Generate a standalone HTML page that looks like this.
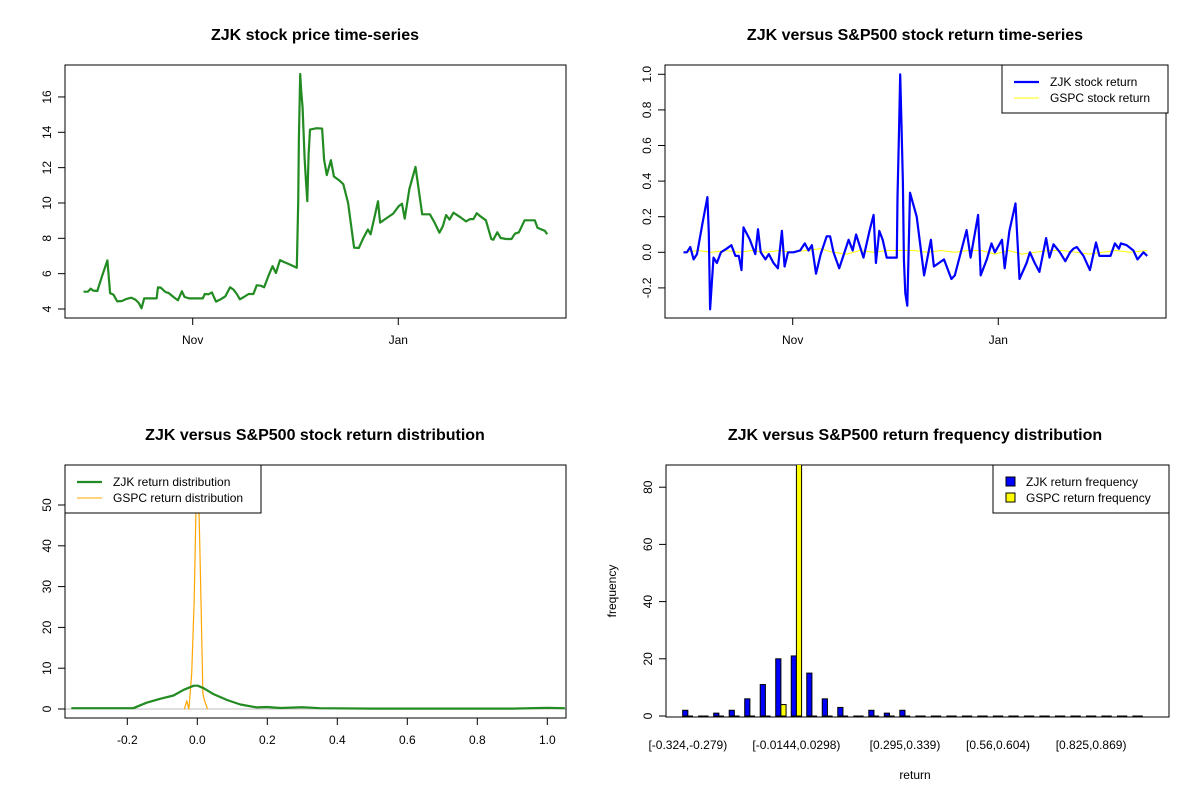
<!DOCTYPE html>
<html><head><meta charset="utf-8"><style>
html,body{margin:0;padding:0;background:#fff}
svg{display:block;font-family:"Liberation Sans",Arial,sans-serif}
</style></head><body>
<svg id="c" width="1200" height="800" viewBox="0 0 1200 800"></svg>
<script>
// ---- Panel 1: price series (day offset from Nov 1, price)
const priceDays=[-32.4,-31.1,-30.3,-29.5,-28.3,-26.9,-25.3,-24.5,-23.5,-22.4,-21.0,-19.6,-18.2,-17.0,-16.0,-15.2,-14.4,-12.7,-10.7,-10.3,-9.5,-8.1,-7.1,-5.7,-4.4,-3.2,-2.4,-1.0,1.2,3.0,3.6,4.7,5.7,6.9,8.3,9.7,11.1,12.1,13.1,14.0,15.2,16.6,18.0,19.0,20.2,21.2,22.7,23.7,24.7,25.9,27.1,28.9,30.9,31.3,31.5,31.9,32.2,32.6,33.2,33.6,34.0,34.4,34.8,36.8,38.4,39.0,39.8,41.0,41.9,43.5,44.7,46.1,47.9,49.3,50.6,52.0,52.8,54.0,55.0,55.6,57.6,59.5,61.1,62.1,62.9,64.3,66.1,68.1,70.4,71.8,73.2,74.2,75.2,76.2,77.4,79.3,81.1,82.3,83.3,84.3,85.3,87.0,88.6,89.2,90.4,91.4,93.0,94.6,95.6,96.8,98.5,101.5,102.3,103.7,104.5,105.2];
const priceVals=[4.98,4.98,5.15,5.04,5.02,5.85,6.75,4.9,4.81,4.43,4.45,4.57,4.64,4.53,4.34,4.04,4.6,4.6,4.6,5.23,5.21,4.96,4.9,4.68,4.49,5.0,4.68,4.6,4.6,4.6,4.85,4.83,4.94,4.42,4.55,4.72,5.23,5.1,4.85,4.55,4.68,4.85,4.85,5.34,5.32,5.23,5.98,6.42,6.04,6.77,6.66,6.51,6.34,10.0,13.66,17.3,16.34,15.4,12.53,11.3,10.1,12.75,14.15,14.23,14.21,12.45,11.58,12.42,11.5,11.28,11.06,10.0,7.47,7.45,8.0,8.5,8.23,9.25,10.1,8.89,9.15,9.4,9.81,9.96,9.11,10.8,12.04,9.36,9.36,8.87,8.32,8.68,9.32,9.06,9.45,9.21,8.96,9.09,9.09,9.42,9.25,9.02,7.96,7.92,8.34,8.02,7.96,7.96,8.26,8.34,9.02,9.02,8.6,8.49,8.42,8.23];
const priceTicks=[4,6,8,10,12,14,16];
const dateTicks=[0,61];
const dateLabels=["Nov","Jan"];
// ---- Panel 2: returns
const retDays=[-32.4,-31.4,-30.4,-29.4,-28.4,-26.8,-25.3,-24.9,-24.5,-23.5,-22.5,-21.3,-19.6,-18.2,-17.0,-16.0,-15.2,-14.6,-12.7,-11.1,-10.3,-9.5,-8.1,-7.1,-5.7,-4.4,-3.2,-2.4,-1.4,0.2,2.2,3.6,4.7,5.7,6.9,8.3,10.1,11.1,12.1,13.8,15.2,16.6,17.8,18.8,20.0,21.0,22.8,24.0,24.7,25.7,26.7,27.9,30.9,31.1,31.5,31.9,32.3,32.7,33.0,33.4,34.0,34.4,34.8,36.8,39.0,41.0,41.9,44.9,47.1,48.1,49.6,51.6,52.8,55.0,55.8,57.6,59.0,60.0,62.1,62.9,64.3,66.1,67.3,69.4,70.4,71.8,73.2,75.2,76.2,77.4,79.3,80.9,82.3,83.3,84.3,86.3,88.2,90.0,91.0,93.0,94.3,95.6,96.8,97.4,99.1,101.1,102.3,104.1,105.2];
const retVals=[0,0,0.03,-0.04,-0.01,0.16,0.31,0.11,-0.32,-0.03,-0.06,0,0.02,0.04,-0.02,-0.02,-0.1,0.14,0.07,-0.01,0.13,0,-0.04,-0.01,-0.06,-0.09,0.12,-0.08,0,0,0.01,0.05,0.01,0.04,-0.12,-0.01,0.09,0.09,0,-0.09,-0.01,0.07,0.01,0.1,0.03,-0.03,0.12,0.21,-0.06,0.12,0.07,-0.03,-0.03,0.31,0.65,1.0,0.69,0.39,-0.04,-0.23,-0.3,0,0.335,0.2,-0.13,0.07,-0.08,-0.04,-0.15,-0.13,-0.02,0.125,-0.03,0.21,-0.13,-0.04,0.05,0,0.07,-0.09,0.12,0.275,-0.15,-0.06,0,-0.06,-0.11,0.08,-0.03,0.045,0,-0.05,0,0.02,0.03,-0.02,-0.1,0.055,-0.02,-0.02,-0.02,0.05,0.02,0.05,0.04,0.01,-0.04,0,-0.02];
const spDays=[-32.4,-28,-24,-20,-16,-12,-8,-4,0,4,8,12,16,20,24,28,32,36,40,44,48,52,56,60,64,68,72,76,80,84,88,92,96,100,105.2];
const spVals=[0,0.01,0,0.01,0,0.01,0,0.01,0,0.01,0.02,0,-0.01,0.01,0,0.01,0.01,0.01,0,0.01,0,0.01,0.01,-0.01,0.01,-0.01,0,0.01,0.01,0,-0.01,0,0.01,0,0.01];
const retTicks=[-0.2,0,0.2,0.4,0.6,0.8,1.0];
// ---- Panel 3: densities
const zjkDensX=[-0.36,-0.25,-0.183,-0.145,-0.106,-0.068,-0.039,-0.01,0.001,0.018,0.047,0.085,0.123,0.17,0.199,0.237,0.3,0.35,0.5,0.7,0.9,1.0,1.05];
const zjkDensY=[0.2,0.2,0.2,1.55,2.5,3.3,4.7,5.7,5.7,5.1,3.6,2.2,1.1,0.4,0.5,0.25,0.45,0.2,0.1,0.1,0.1,0.3,0.2];
const spDensX=[-0.037,-0.030,-0.024,-0.016,-0.009,-0.004,0.001,0.007,0.011,0.016,0.020,0.025,0.029];
const spDensY=[0,2,0,8.7,26.7,48,62,40,24,3.8,2.2,1,0];
const densXTicks=[-0.2,0,0.2,0.4,0.6,0.8,1.0];
const densYTicks=[0,10,20,30,40,50];
// ---- Panel 4: frequency bars
const zjkFreq=[2,0,1,2,6,11,20,21,15,6,3,0,2,1,2,0,0,0,0,0,0,0,0,0,0,0,0,0,0,0];
const spFreq=[0,0,0,0,0,0,4,92,0,0,0,0,0,0,0,0,0,0,0,0,0,0,0,0,0,0,0,0,0,0];
const binLabelIdx=[0,7,14,20,26];
const binLabels=["[-0.324,-0.279)","[-0.0144,0.0298)","[0.295,0.339)","[0.56,0.604)","[0.825,0.869)"];
const freqTicks=[0,20,40,60,80];

const NS="http://www.w3.org/2000/svg";
const svg=document.getElementById('c');
function mk(tag,attrs,parent,text){const e=document.createElementNS(NS,tag);for(const k in attrs)e.setAttribute(k,attrs[k]);if(text!==undefined)e.textContent=text;(parent||svg).appendChild(e);return e;}
function grp(name){const g=mk('g',{});


return g;}
function title(g,x,y,t){const e=mk('text',{x:x,y:y,'text-anchor':'middle','font-size':16,'font-weight':'bold',fill:'#000'},g,t);

}
function box(g,x0,y0,x1,y1){const e=mk('rect',{x:x0,y:y0,width:x1-x0,height:y1-y0,fill:'none',stroke:'#000','stroke-width':1},g);

}
function yAxis(g,ticks,ys,x,labFmt){for(let i=0;i<ticks.length;i++){const y=ys(ticks[i]);mk('line',{x1:x-7,x2:x,y1:y,y2:y,stroke:'#000'},g);
const t=mk('text',{x:x-14,y:y,'text-anchor':'middle','font-size':12,transform:`rotate(-90 ${x-14} ${y})`},g,labFmt?labFmt(ticks[i]):ticks[i]);

}}
function xAxis(g,ticks,labels,xs,y){for(let i=0;i<ticks.length;i++){const x=xs(ticks[i]);mk('line',{x1:x,x2:x,y1:y,y2:y+7,stroke:'#000'},g);
const t=mk('text',{x:x,y:y+26,'text-anchor':'middle','font-size':12},g,labels[i]);

}}
function poly(g,xs,ys,X,Y,color,w,name){const pts=xs.map((v,i)=>X(v).toFixed(1)+','+Y(ys[i]).toFixed(1)).join(' ');const e=mk('polyline',{points:pts,fill:'none',stroke:color,'stroke-width':w,'stroke-linejoin':'round'},g);

}
function clip(id,x0,y0,x1,y1){const cp=mk('clipPath',{id:id});mk('rect',{x:x0,y:y0,width:x1-x0,height:y1-y0},cp);}

// Panel 1
{const g=grp('price-panel');const X=d=>192.7+d*3.37,Y=v=>309-(v-4)*17.67;
title(g,315,40,'ZJK stock price time-series');
box(g,65,65,566,318);
yAxis(g,priceTicks,Y,65);
xAxis(g,dateTicks,dateLabels,X,318);
poly(g,priceDays,priceVals,X,Y,'#228B22',2.2,'zjk-price-line');}
// Panel 2
{const g=grp('return-panel');const X=d=>792.7+d*3.37,Y=v=>252.3-v*178;
title(g,915,40,'ZJK versus S&P500 stock return time-series');
box(g,665,65,1166,318);
yAxis(g,retTicks,Y,665,v=>v.toFixed(1));
xAxis(g,dateTicks,dateLabels,X,318);
poly(g,spDays,spVals,X,Y,'#ffff00',1,'gspc-return-line');
poly(g,retDays,retVals,X,Y,'#0000ff',2.2,'zjk-return-line');
const L=grp('return-legend');svg.appendChild(L);
mk('rect',{x:1002,y:65,width:166,height:48,fill:'#fff',stroke:'#000'},L);
mk('line',{x1:1014,x2:1039,y1:82,y2:82,stroke:'#0000ff','stroke-width':2.2},L);
mk('line',{x1:1014,x2:1039,y1:98,y2:98,stroke:'#ffff00','stroke-width':1},L);
mk('text',{x:1050,y:86,'font-size':12},L,'ZJK stock return');
mk('text',{x:1050,y:102,'font-size':12},L,'GSPC stock return');}
// Panel 3
{const g=grp('density-panel');const X=v=>197.3+v*350,Y=v=>709-v*4.08;
clip('cp3',65,465,566,718);
title(g,315,440,'ZJK versus S&P500 stock return distribution');
yAxis(g,densYTicks,Y,65);
xAxis(g,densXTicks,densXTicks.map(v=>v.toFixed(1)),X,718);
const inner=mk('g',{'clip-path':'url(#cp3)'},g);
mk('line',{x1:65,x2:566,y1:Y(0),y2:Y(0),stroke:'#bebebe'},inner);
poly(inner,spDensX,spDensY,X,Y,'#FFA500',1.2,'gspc-density-line');
poly(inner,zjkDensX,zjkDensY,X,Y,'#228B22',2.2,'zjk-density-line');
box(g,65,465,566,718);
const L=grp('density-legend');svg.appendChild(L);
mk('rect',{x:65,y:465,width:196,height:48,fill:'#fff',stroke:'#000'},L);
mk('line',{x1:77,x2:102,y1:482,y2:482,stroke:'#228B22','stroke-width':2.2},L);
mk('line',{x1:77,x2:102,y1:498,y2:498,stroke:'#FFA500','stroke-width':1},L);
mk('text',{x:113,y:486,'font-size':12},L,'ZJK return distribution');
mk('text',{x:113,y:502,'font-size':12},L,'GSPC return distribution');}
// Panel 4
{const g=grp('frequency-panel');const Y=v=>716-v*2.86,u=5.17,x0=677.5;
clip('cp4',666,465,1169,718);
title(g,915,440,'ZJK versus S&P500 return frequency distribution');
box(g,666,465,1169,717);
yAxis(g,freqTicks,Y,666);
const inner=mk('g',{'clip-path':'url(#cp4)'},g);
function bar(x,v,fill,name){
if(v===0){const l=mk('line',{x1:x,x2:x+u,y1:Y(0),y2:Y(0),stroke:'#000','stroke-width':1},inner);

return;}
const b=mk('rect',{x:x,y:Y(v),width:u,height:v*2.86,fill:fill,stroke:'#000','stroke-width':1},inner);

}
for(let i=0;i<zjkFreq.length;i++){const bx=x0+(i*3+1)*u;
bar(bx,zjkFreq[i],'#0000ff','zjk-bar');
bar(bx+u,spFreq[i],'#ffff00','gspc-bar');}
for(let k=0;k<binLabelIdx.length;k++){const cx=x0+(binLabelIdx[k]*3+2)*u;
const t=mk('text',{x:cx,y:749,'text-anchor':'middle','font-size':12},g,binLabels[k]);

}
const xl=mk('text',{x:915,y:779,'text-anchor':'middle','font-size':12},g,'return');


const yl=mk('text',{x:616,y:591,'text-anchor':'middle','font-size':12,transform:'rotate(-90 616 591)'},g,'frequency');


const L=grp('frequency-legend');svg.appendChild(L);
mk('rect',{x:993,y:465,width:176,height:48,fill:'#fff',stroke:'#000'},L);
mk('rect',{x:1006,y:477,width:9,height:9,fill:'#0000ff',stroke:'#000'},L);
mk('rect',{x:1006,y:493,width:9,height:9,fill:'#ffff00',stroke:'#000'},L);
mk('text',{x:1026,y:486,'font-size':12},L,'ZJK return frequency');
mk('text',{x:1026,y:502,'font-size':12},L,'GSPC return frequency');}
</script>
</body></html>
